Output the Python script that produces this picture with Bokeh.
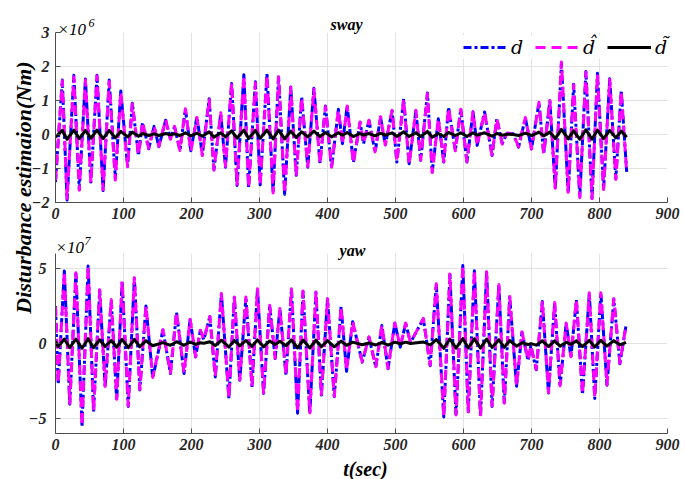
import math
from bokeh.plotting import figure
from bokeh.models import Range1d, FixedTicker, Label, Legend, LegendItem
from bokeh.layouts import row, column
from bokeh.embed import file_html
from bokeh.resources import INLINE

# ---------------- data ----------------
# sway: values in units of 1e6 Nm, extrema of the oscillation
t_sway = [0, 10, 17, 27, 35, 44, 52, 61, 70, 79,
          88, 96, 106, 113, 122, 128, 137, 145, 152, 162,
          169, 175, 183, 191, 199, 208, 216, 226, 233, 243,
          250, 259, 267, 277, 284, 294, 301, 311, 320, 328,
          337, 346, 354, 362, 371, 380, 389, 397, 406, 416,
          422, 429, 438, 448, 453, 461, 470, 478, 485, 495,
          502, 512, 520, 530, 537, 547, 554, 563, 571, 578,
          588, 596, 605, 614, 620, 631, 642, 649, 657, 664,
          673, 681, 691, 700, 711, 718, 727, 735, 744, 754,
          762, 771, 780, 789, 797, 806, 815, 824, 832, 840]
d_sway = [-1.40, 1.60, -1.93, 1.74, -1.62, 1.63, -1.40, 1.74, -1.65, 1.60,
          -1.30, 1.28, -0.93, 0.92, -0.62, 0.35, -0.42, 0.24, -0.36, 0.42,
          -0.12, 0.23, -0.46, 0.74, -0.48, 0.52, -0.60, 1.05, -1.03, 0.62,
          -0.96, 1.50, -1.50, 1.76, -1.55, 1.55, -1.48, 1.78, -1.70, 1.73,
          -1.76, 1.40, -1.20, 1.10, -0.96, 1.36, -0.84, 0.84, -0.98, 0.74,
          -0.27, 0.85, -0.82, 0.36, -0.27, 0.41, -0.52, 0.51, -0.30, 0.70,
          -0.81, 1.05, -0.86, 0.70, -0.76, 1.22, -1.10, 0.46, -0.81, 0.80,
          -0.47, 0.75, -0.81, 0.66, -0.32, 0.66, -0.62, 0.46, -0.27, 0.04,
          0.02, -0.37, 0.48, -0.42, 0.93, -0.57, 0.98, -1.60, 2.10, -1.72,
          1.48, -1.84, 1.85, -1.87, 1.80, -1.60, 1.64, -1.30, 1.29, -1.10]
dh_sway = [-1.35, 1.58, -1.88, 1.70, -1.64, 1.60, -1.42, 1.72, -1.62, 1.56,
           -1.34, 1.25, -0.95, 0.90, -0.60, 0.37, -0.40, 0.25, -0.35, 0.44,
           -0.14, 0.24, -0.47, 0.76, -0.50, 0.50, -0.62, 1.02, -1.05, 0.64,
           -0.94, 1.52, -1.46, 1.74, -1.57, 1.52, -1.50, 1.76, -1.72, 1.70,
           -1.74, 1.38, -1.22, 1.08, -0.94, 1.34, -0.86, 0.82, -0.96, 0.72,
           -0.28, 0.84, -0.84, 0.37, -0.26, 0.42, -0.51, 0.52, -0.31, 0.71,
           -0.80, 1.03, -0.88, 0.71, -0.75, 1.20, -1.12, 0.47, -0.80, 0.78,
           -0.48, 0.74, -0.80, 0.67, -0.33, 0.65, -0.61, 0.47, -0.28, 0.04,
           0.02, -0.36, 0.50, -0.43, 0.95, -0.58, 1.00, -1.58, 2.13, -1.70,
           1.46, -1.86, 1.83, -1.89, 1.78, -1.62, 1.62, -1.32, 1.27, -1.12]
e_sway = [-0.08, 0.12, -0.14, 0.13, -0.12, 0.12, -0.11, 0.13, -0.12, 0.12,
          -0.10, 0.09, -0.07, 0.07, -0.05, 0.03, -0.03, 0.02, -0.03, 0.03,
          -0.01, 0.02, -0.03, 0.05, -0.04, 0.04, -0.05, 0.08, -0.08, 0.05,
          -0.07, 0.11, -0.11, 0.13, -0.12, 0.12, -0.11, 0.13, -0.13, 0.13,
          -0.13, 0.10, -0.09, 0.08, -0.07, 0.10, -0.06, 0.06, -0.07, 0.05,
          -0.02, 0.06, -0.06, 0.03, -0.02, 0.03, -0.04, 0.04, -0.02, 0.05,
          -0.06, 0.08, -0.06, 0.05, -0.06, 0.09, -0.08, 0.03, -0.06, 0.06,
          -0.03, 0.05, -0.06, 0.05, -0.02, 0.05, -0.05, 0.03, -0.02, 0.01,
          0.00, -0.03, 0.04, -0.03, 0.07, -0.04, 0.07, -0.12, 0.15, -0.13,
          0.11, -0.14, 0.14, -0.14, 0.13, -0.12, 0.12, -0.10, 0.10, -0.08]

# yaw: values in units of 1e7 Nm
t_yaw = [0, 4, 13, 21, 30, 39, 48, 56, 65, 73,
         82, 90, 98, 107, 116, 124, 133, 143, 158, 169,
         178, 189, 198, 206, 213, 218, 227, 235, 244, 255,
         263, 271, 280, 289, 297, 306, 315, 323, 330, 339,
         347, 356, 364, 374, 383, 391, 400, 410, 420, 428,
         437, 451, 461, 471, 480, 489, 499, 507, 515, 522,
         541, 551, 560, 571, 580, 589, 599, 607, 616, 625,
         634, 642, 652, 660, 668, 678, 686, 695, 699, 707,
         716, 725, 734, 742, 751, 758, 766, 775, 785, 793,
         802, 811, 821, 830, 839]
d_yaw = [2.50, -2.70, 4.83, -4.05, 4.75, -5.54, 5.17, -4.55, 3.55, -2.90,
         2.90, -3.77, 4.13, -4.20, 4.35, -3.10, 2.50, -2.30, 0.90, -2.00,
         2.07, -2.00, 1.60, -0.90, 0.86, 0.25, 1.78, -2.23, 3.30, -3.66,
         3.07, -2.45, 3.07, -2.90, 3.62, -3.33, 2.52, -1.00, 2.30, -2.12,
         3.62, -4.65, 3.47, -4.65, 3.40, -3.44, 2.96, -3.55, 2.45, -1.85,
         1.45, -1.24, 0.42, -1.57, 1.20, -1.68, 1.35, -0.25, 1.35, 0.05,
         1.65, -1.48, 3.95, -4.90, 4.60, -4.80, 5.20, -4.60, 4.85, -4.88,
         4.75, -4.20, 3.90, -4.02, 3.10, -2.85, 0.75, -1.13, -0.15, -1.75,
         2.80, -3.30, 2.70, -2.85, 1.35, -0.90, 2.90, -3.40, 3.35, -3.66,
         3.35, -2.78, 2.96, -1.35, 1.20]
dh_yaw = [2.45, -2.65, 4.80, -4.00, 4.72, -5.50, 5.20, -4.50, 3.58, -2.86,
          2.93, -3.72, 4.15, -4.16, 4.38, -3.06, 2.53, -2.26, 0.92, -1.96,
          2.10, -1.97, 1.62, -0.88, 0.88, 0.27, 1.80, -2.20, 3.33, -3.62,
          3.10, -2.42, 3.10, -2.86, 3.65, -3.30, 2.55, -0.98, 2.33, -2.08,
          3.65, -4.60, 3.50, -4.62, 3.43, -3.40, 2.99, -3.52, 2.48, -1.82,
          1.47, -1.22, 0.44, -1.55, 1.22, -1.66, 1.37, -0.23, 1.37, 0.06,
          1.67, -1.45, 3.98, -4.86, 4.63, -4.77, 5.24, -4.56, 4.88, -4.84,
          4.78, -4.16, 3.93, -3.98, 3.13, -2.82, 0.77, -1.11, -0.13, -1.72,
          2.83, -3.27, 2.73, -2.82, 1.37, -0.88, 2.93, -3.37, 3.38, -3.62,
          3.38, -2.75, 2.99, -1.32, 1.22]
e_yaw = [0.15, -0.20, 0.30, -0.28, 0.30, -0.32, 0.32, -0.28, 0.25, -0.20,
         0.20, -0.25, 0.27, -0.28, 0.28, -0.22, 0.18, -0.15, 0.06, -0.12,
         0.12, -0.12, 0.10, -0.06, 0.05, 0.02, 0.12, -0.14, 0.22, -0.24,
         0.20, -0.16, 0.20, -0.19, 0.24, -0.22, 0.17, -0.07, 0.15, -0.14,
         0.24, -0.30, 0.23, -0.30, 0.22, -0.22, 0.19, -0.22, 0.16, -0.12,
         0.09, -0.08, 0.03, -0.10, 0.08, -0.11, 0.09, -0.02, 0.09, 0.00,
         0.10, -0.10, 0.26, -0.32, 0.30, -0.31, 0.33, -0.30, 0.31, -0.31,
         0.30, -0.27, 0.25, -0.26, 0.20, -0.18, 0.05, -0.07, -0.01, -0.11,
         0.18, -0.21, 0.17, -0.18, 0.09, -0.06, 0.18, -0.21, 0.21, -0.23,
         0.21, -0.18, 0.19, -0.09, 0.08]

x_ticks = [0, 100, 200, 300, 400, 500, 600, 700, 800, 900]
sway_ticks = [-2, -1, 0, 1, 2, 3]
yaw_ticks = [-5, 0, 5]
legend_labels = ["d", "d\u0302", "d\u0303"]

# ---------------- styling ----------------
SERIF = "Liberation Serif"
AX = "#4d4d4d"
STYLES = [dict(line_color="#0000ff", line_width=3, line_dash="8 3 3 3"),
          dict(line_color="#ff00ff", line_width=3, line_dash="10 6"),
          dict(line_color="black", line_width=3)]


def style(p, yticks):
    p.xaxis.ticker = FixedTicker(ticks=x_ticks)
    p.yaxis.ticker = FixedTicker(ticks=yticks)
    for ax in p.axis:
        ax.major_label_text_font = SERIF
        ax.major_label_text_font_style = "bold italic"
        ax.major_label_text_font_size = "16px"
        ax.major_label_text_color = "#262626"
        ax.axis_line_color = AX
        ax.major_tick_line_color = AX
        ax.major_tick_in = 5
        ax.major_tick_out = 0
        ax.minor_tick_line_color = None
    p.xaxis.major_label_standoff = 5
    p.xgrid.grid_line_color = "#e2e2e2"
    p.ygrid.grid_line_color = "#e2e2e2"
    p.outline_line_color = None
    p.background_fill_color = "white"
    p.border_fill_alpha = 0.0


def curves(p, t, d, dh, e):
    for ys, st in zip([d, dh, e], STYLES):
        p.line(t, ys, line_join="round", **st)


# ---------------- top: sway ----------------
top = figure(width=685, height=228, x_range=Range1d(0, 900),
             y_range=Range1d(-2, 3), output_backend="svg",
             toolbar_location=None, title_location=None,
             min_border_left=55, min_border_right=18,
             min_border_top=32, min_border_bottom=26)
style(top, sway_ticks)
top.yaxis.major_label_standoff = 6
curves(top, t_sway, d_sway, dh_sway, e_sway)

# ---------------- bottom: yaw ----------------
bot = figure(width=685, height=251, x_range=Range1d(0, 900),
             y_range=Range1d(-6, 6), output_backend="svg",
             toolbar_location=None, title_location=None,
             min_border_left=52, min_border_right=13,
             min_border_top=25, min_border_bottom=46)
style(bot, yaw_ticks)
bot.yaxis.major_label_standoff = 9
curves(bot, t_yaw, d_yaw, dh_yaw, e_yaw)

# ---------------- transparent overlay holding free texts and the legend ------
# coordinates of this overlay are page pixels (y measured upward from bottom)
ov = figure(width=685, height=479, x_range=Range1d(0, 685),
            y_range=Range1d(0, 479), output_backend="svg",
            toolbar_location=None, title_location=None,
            x_axis_type=None, y_axis_type=None, min_border=0)
ov.outline_line_color = None
ov.grid.visible = False
ov.background_fill_alpha = 0.0
ov.border_fill_alpha = 0.0

# legend swatches: same styles as the curves, a single undefined point each
nan = float("nan")
swatches = [ov.line([nan], [nan], **st) for st in STYLES]
legend = Legend(items=[LegendItem(label=lb, renderers=[r])
                       for lb, r in zip(legend_labels, swatches)],
                location=(463, 420), orientation="horizontal",
                glyph_width=44, glyph_height=20, label_standoff=4,
                label_width=16, label_height=24, spacing=8, padding=6,
                margin=0,
                label_text_font="DejaVu Serif", label_text_font_style="italic",
                label_text_font_size="19px", label_text_color="black",
                background_fill_color="white", background_fill_alpha=1.0,
                border_line_color=None)
ov.add_layout(legend)


def txt(x, y, s, size, style="bold italic", align="center",
        baseline="alphabetic", angle=0.0):
    ov.add_layout(Label(x=x, y=479 - y, text=s, text_font=SERIF,
                        text_font_style=style, text_font_size=size,
                        text_align=align, text_baseline=baseline,
                        angle=angle, text_color="black"))


txt(346, 24, "sway", "16px")
txt(57, 29, "\u00d710", "17px", style="italic", align="left")
txt(88, 22, "6", "12px", style="italic", align="left")
txt(352, 250, "yaw", "16px")
txt(55, 247, "\u00d710", "17px", style="italic", align="left")
txt(84, 240, "7", "12px", style="italic", align="left")
txt(365, 468, "t(sec)", "20px", baseline="middle")
txt(23, 187, "Disturbance estimaion(Nm)", "22px", baseline="middle",
    angle=math.pi / 2)
ov.margin = (0, 0, 0, -685)

layout = row(column(top, bot), ov)
open("out.html", "w").write(file_html(layout, INLINE))
